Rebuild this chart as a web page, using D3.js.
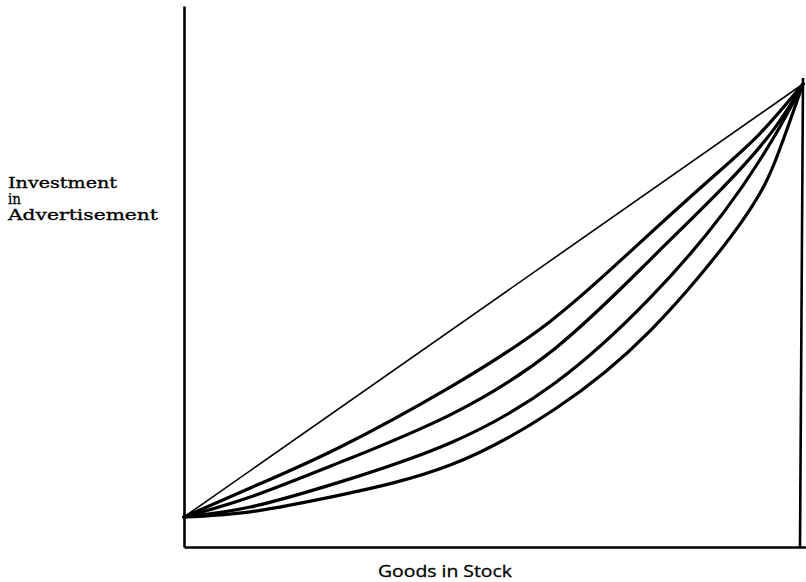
<!DOCTYPE html>
<html>
<head>
<meta charset="utf-8">
<script src="https://cdn.jsdelivr.net/npm/d3@7"></script>
<style>
  body { margin: 0; background: #fff; }
  svg { display: block; }
</style>
</head>
<body>
<div id="chart"></div>
<script>
// share of goods in stock (0..1) and share of advertising budget (0..1)
let straightX = [0, 1];
let straightY = [0, 1];

let curve1X = [0, 0.107, 0.25, 0.43, 0.59, 0.724, 0.85, 0.93, 1];
let curve1Y = [0, 0.067, 0.16, 0.30, 0.45, 0.617, 0.78, 0.885, 1];

let curve2X = [0, 0.107, 0.25, 0.43, 0.6, 0.753, 0.87, 0.95, 1];
let curve2Y = [0, 0.046, 0.125, 0.236, 0.39, 0.594, 0.76, 0.89, 1];

let curve3X = [0, 0.107, 0.25, 0.43, 0.6, 0.753, 0.87, 0.95, 1];
let curve3Y = [0, 0.023, 0.08, 0.171, 0.31, 0.506, 0.70, 0.87, 1];

let curve4X = [0, 0.107, 0.25, 0.43, 0.6, 0.753, 0.9, 0.96, 1];
let curve4Y = [0, 0.012, 0.05, 0.12, 0.25, 0.43, 0.68, 0.84, 1];

let yLabel = ["Investment", "in", "Advertisement"];
let xLabel = "Goods in Stock";

let width = 806;
let height = 582;

let svg = d3.select("#chart")
  .append("svg")
  .attr("width", width)
  .attr("height", height);

let xScale = d3.scaleLinear().domain([0, 1]).range([184, 803]);
let yScale = d3.scaleLinear().domain([0, 1]).range([517, 84]);

// axes drawn as plain frame lines (no ticks in the figure)
let axisLeft = d3.axisLeft(d3.scaleLinear().domain([0, 1]).range([547, 6])).ticks(0).tickSize(0);
svg.append("g")
  .attr("transform", "translate(184,0)")
  .call(axisLeft)
  .call(g => g.select(".domain").attr("stroke", "#000").attr("stroke-width", 2.6));

let axisBottom = d3.axisBottom(d3.scaleLinear().domain([0, 1]).range([184, 806])).ticks(0).tickSize(0);
svg.append("g")
  .attr("transform", "translate(0,547)")
  .call(axisBottom)
  .call(g => g.select(".domain").attr("stroke", "#000").attr("stroke-width", 2.4));

// right-hand boundary at full stock
svg.append("line")
  .attr("x1", xScale(1))
  .attr("y1", yScale(1) - 6)
  .attr("x2", xScale(1) - 3)
  .attr("y2", 547)
  .attr("stroke", "#000")
  .attr("stroke-width", 2.6);

let line = d3.line()
  .x(d => xScale(d[0]))
  .y(d => yScale(d[1]))
  .curve(d3.curveNatural);

svg.append("path")
  .datum(d3.zip(straightX, straightY))
  .attr("d", line)
  .attr("fill", "none")
  .attr("stroke", "#000")
  .attr("stroke-width", 1.6);

let curves = [
  d3.zip(curve1X, curve1Y),
  d3.zip(curve2X, curve2Y),
  d3.zip(curve3X, curve3Y),
  d3.zip(curve4X, curve4Y)
];

svg.selectAll("path.curve")
  .data(curves)
  .enter()
  .append("path")
  .attr("class", "curve")
  .attr("d", line)
  .attr("fill", "none")
  .attr("stroke", "#000")
  .attr("stroke-width", 3.2)
  .attr("stroke-linecap", "round");

let labelWidths = [109, 13, 150];
svg.append("g")
  .selectAll("text")
  .data(yLabel)
  .enter()
  .append("text")
  .attr("x", 8)
  .attr("y", (d, i) => 188 + i * 16)
  .attr("font-family", "DejaVu Serif")
  .attr("font-size", 14.5)
  .attr("textLength", (d, i) => labelWidths[i])
  .attr("lengthAdjust", "spacingAndGlyphs")
  .attr("fill", "#000")
  .attr("stroke", "#000")
  .attr("stroke-width", 0.3)
  .text(d => d);

svg.append("text")
  .attr("x", 378)
  .attr("y", 577)
  .attr("font-family", "Open Sans")
  .attr("font-size", 17)
  .attr("textLength", 134)
  .attr("lengthAdjust", "spacingAndGlyphs")
  .attr("fill", "#000")
  .attr("stroke", "#000")
  .attr("stroke-width", 0.3)
  .text(xLabel);
</script>
</body>
</html>
